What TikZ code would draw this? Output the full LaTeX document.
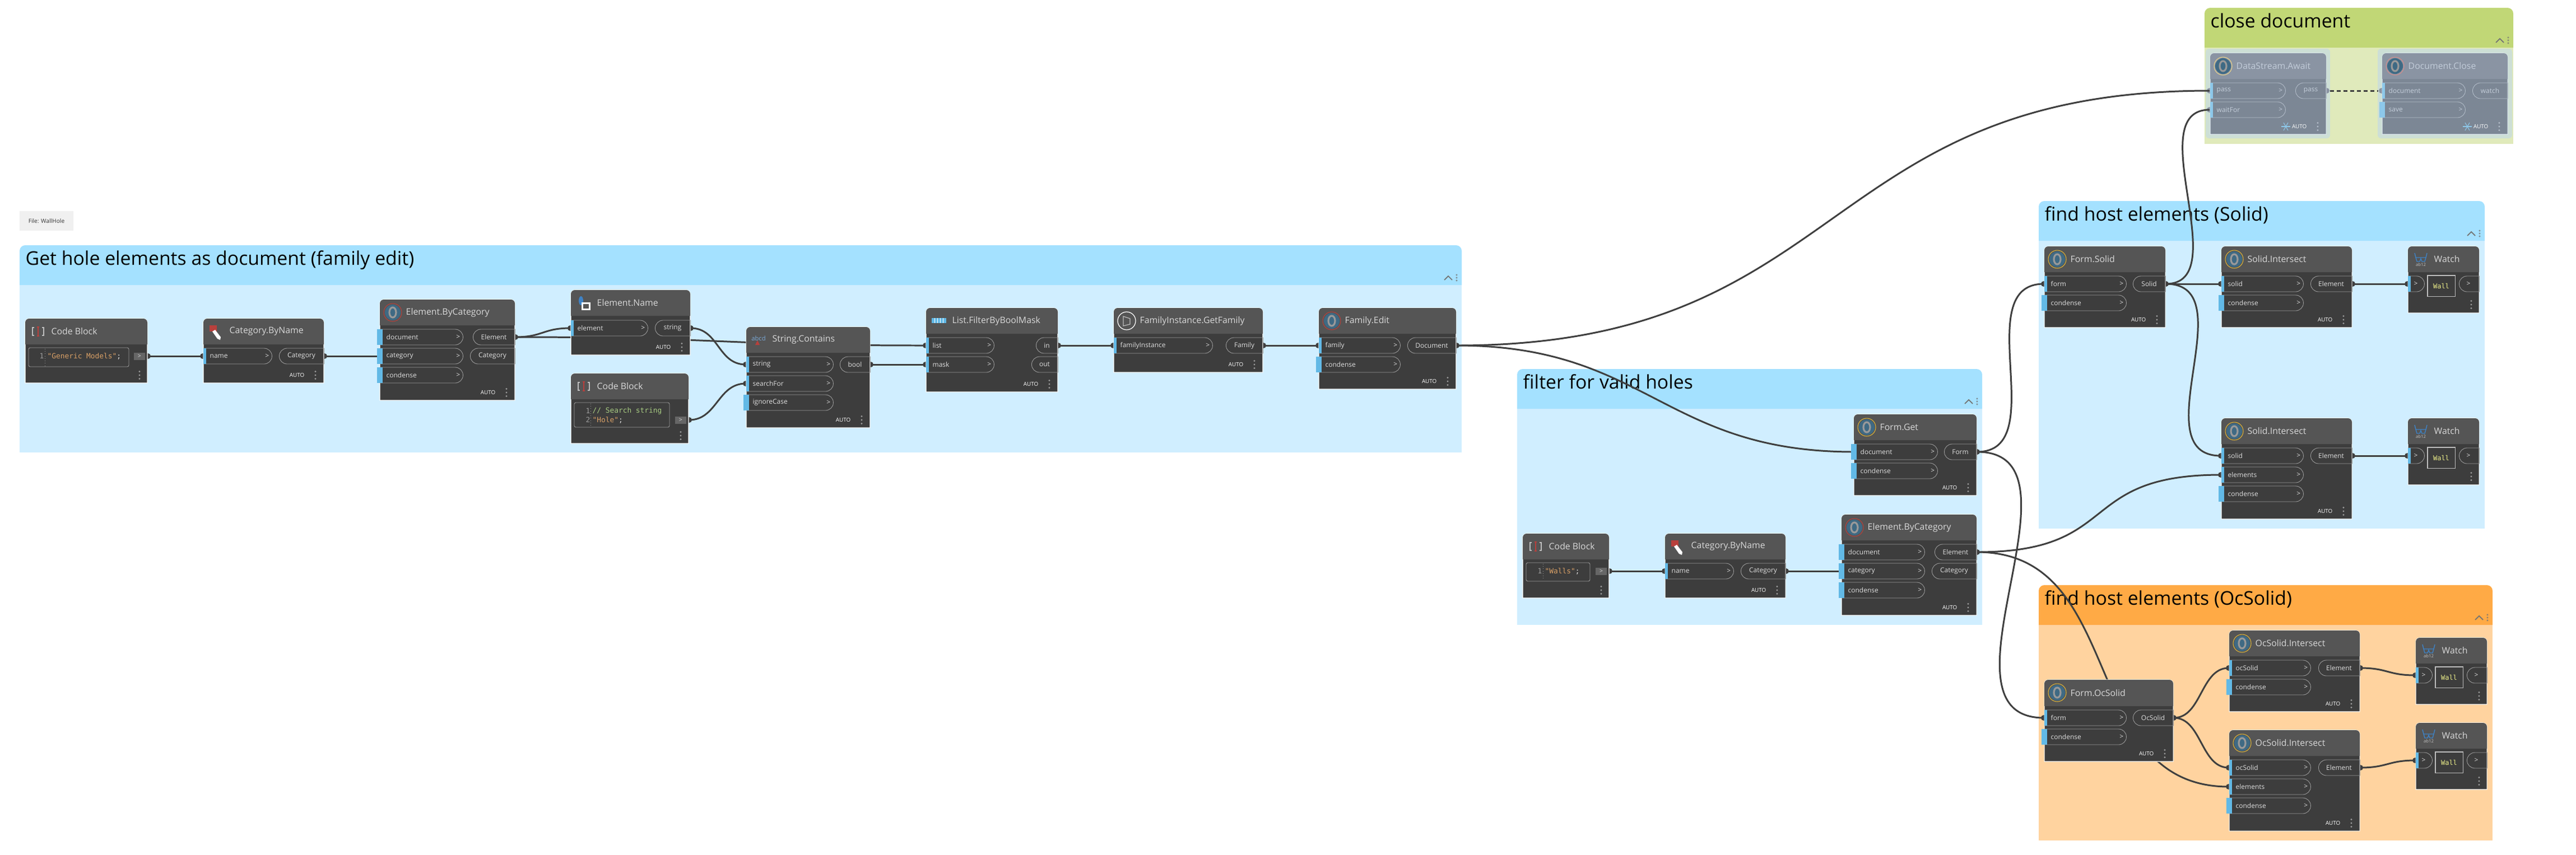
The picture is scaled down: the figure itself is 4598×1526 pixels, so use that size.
\documentclass[tikz,border=0pt]{standalone}
\usepackage{fontspec}
\setmainfont{Open Sans}
\setmonofont{DejaVu Sans Mono}
\usetikzlibrary{shapes.misc}

\definecolor{nodebody}{HTML}{3D3D3D}
\definecolor{nodehead}{HTML}{555555}
\definecolor{nodeedge}{HTML}{FFFFFF}
\definecolor{portline}{HTML}{9C9C9C}
\definecolor{portbar}{HTML}{62B9E6}
\definecolor{porttext}{HTML}{DDDDDD}
\definecolor{titletext}{HTML}{D8D8D8}
\definecolor{wirecol}{HTML}{3F3F3F}
\definecolor{frozensock}{HTML}{8A94A3}
\definecolor{hdrblue}{HTML}{A4E1FF}
\definecolor{bodyblue}{HTML}{D0EEFF}
\definecolor{hdrorange}{HTML}{FFAA45}
\definecolor{bodyorange}{HTML}{FFD39F}
\definecolor{hdrgreen}{HTML}{C1D776}
\definecolor{bodygreen}{HTML}{E0EABB}
\definecolor{haloblue}{HTML}{CDDFD6}
\definecolor{codeorange}{HTML}{D9A066}
\definecolor{codegreen}{HTML}{A8CC82}
\definecolor{wallyellow}{HTML}{EEF08A}
\definecolor{ringred}{HTML}{B8403C}
\definecolor{ringyellow}{HTML}{DDB53A}
\definecolor{iconblue}{HTML}{3F6A84}
\definecolor{watchblue}{HTML}{3F82C4}

\pgfdeclarelayer{group_layer}
\pgfdeclarelayer{wire_layer}
\pgfsetlayers{group_layer,wire_layer,main}

% group frame: name, x1, y1, x2, header bottom, y2, header colour, body colour, title
\newcommand{\dyngroup}[9]{
    \fill[#8] (#2,#5) rectangle (#4,#6);
    \fill[#7] (#2,#5) [rounded corners=0.1cm] -- (#2,#3) -- (#4,#3) [sharp corners] -- (#4,#5) -- cycle;
    \node[group_title, anchor=base west] (#1) at (#2+10,{(#3+#5)/2}) {#9};
    \draw[group_chev] (#4-31,#5-9) -- (#4-24,#5-16) -- (#4-17,#5-9);
    \foreach \d in {-5,0,5} \draw[group_chev, line width=0.15pt] (#4-9,#5-13+\d) circle (0.012cm);
}
% node frame: name, x1, y1, x2, y2, header bottom, title
\newcommand{\dynnode}[7]{
    \path[draw=nodeedge, line width=0.3pt, fill=nodebody] (#2,#5) [rounded corners=0.07cm] -- (#2,#3) -- (#4,#3) [sharp corners] -- (#4,#5) -- cycle;
    \path[fill=nodehead] (#2,#6) [rounded corners=0.07cm] -- (#2,#3) -- (#4,#3) [sharp corners] -- (#4,#6) -- cycle;
    \node[node_title, anchor=west] (#1) at (#2+46,{(#3+#6)/2}) {#7};
}
% input port: name, x1, y, right end, text, extra bar to the left
\newcommand{\inport}[6]{
    \node[in_port, minimum width={(#4-#2)*0.01cm}] (#1) at (#2,#3) {};
    \fill[portbar] (#2-#6,#3-14) rectangle (#2+5,#3+14);
    \node[port_text, anchor=west] at (#2+11,#3) {#5};
    \node[port_text, anchor=east] at (#4-4,#3) {>};
}
% output port: name, left end, x2, y, text
\newcommand{\outport}[5]{
    \node[out_port, minimum width={(#3-#2)*0.01cm}] (#1) at (#2,#4) {};
    \node[port_text] at ({(#2+#3)/2},#4) {#5};
}
\newcommand{\nodedots}[2]{
    \foreach \d in {-6.5,0,6.5} \fill[portline] (#1,#2+\d) circle (0.016cm);
}
% footer: x2, y
\newcommand{\autotag}[2]{
    \node[auto_text, anchor=east] at (#1-34,#2) {AUTO};
    \nodedots{#1-15}{#2}
}
\newcommand{\snowflake}[2]{
    \foreach \a in {0,60,120} \draw[portbar, line width=0.3pt] (#1,#2) ++(\a:8) -- ++(\a+180:16);
}
\newcommand{\ringicon}[3]{
    \fill[iconblue] (#1,#2) circle (0.14cm);
    \draw[#3, line width=0.3pt] (#1,#2) circle (0.16cm);
    \draw[gray!80!white, line width=0.9pt] (#1,#2) ellipse (0.06cm and 0.09cm);
}
\newcommand{\codeicon}[2]{
    \draw[lightgray, line width=0.3pt] (#1-7,#2-7) -- (#1-10,#2-7) -- (#1-10,#2+7) -- (#1-7,#2+7);
    \draw[lightgray, line width=0.3pt] (#1+7,#2-7) -- (#1+10,#2-7) -- (#1+10,#2+7) -- (#1+7,#2+7);
    \draw[ringred, line width=0.3pt] (#1-2,#2-8) -- (#1+2,#2-8) (#1,#2-8) -- (#1,#2+8) (#1-2,#2+8) -- (#1+2,#2+8);
}
\newcommand{\tagicon}[2]{
    \fill[ringred] (#1-7,#2-11) rectangle (#1+6,#2);
    \fill[white] (#1-2,#2) -- (#1+3,#2-3) -- (#1+13,#2+10) -- (#1+12,#2+15) -- (#1+7,#2+13) -- cycle;
}
% watch node: name, x1, y1
\newcommand{\watchnode}[3]{
    \dynnode{#1}{#2}{#3}{#2+127}{#3+119}{#3+46}{Watch}
    \draw[watchblue, line width=0.4pt] (#2+12,#3+12) -- (#2+14,#3+20) -- (#2+32,#3+20) -- (#2+34,#3+12)
        (#2+14,#3+20) -- (#2+16,#3+27) -- (#2+21,#3+27) -- (#2+23,#3+22) -- (#2+25,#3+27) -- (#2+30,#3+27) -- (#2+32,#3+20);
    \node[icon_text, text=lightgray] at (#2+23,#3+33) {ab12};
    \node[in_port, minimum width=0.29cm] (#1_in) at (#2,#3+67) {};
    \fill[portbar] (#2,#3+53) rectangle (#2+5,#3+81);
    \node[port_text] at (#2+14,#3+67) {>};
    \node[wall_box] (#1_val) at (#2+59.5,#3+70.5) {Wall};
    \node[out_port, minimum width=0.36cm] (#1_out) at (#2+91,#3+67) {};
    \node[port_text] at (#2+108,#3+67) {>};
    \nodedots{#2+113}{#3+104}
}

\begin{document}
\begin{tikzpicture}[x=0.01cm, y=-0.01cm,
    group_title/.style={font=\fontsize{9.6}{11}\selectfont, text=black, inner sep=0pt},
    group_chev/.style={draw=black!55, line width=0.5pt},
    node_title/.style={font=\fontsize{4.5}{5.4}\selectfont, text=titletext, inner sep=0pt},
    port_text/.style={font=\fontsize{3.4}{4}\selectfont, text=porttext, inner sep=0pt},
    auto_text/.style={font=\fontsize{2.8}{3.4}\selectfont, text=white, inner sep=0pt},
    icon_text/.style={font=\fontsize{2.2}{2.6}\selectfont, inner sep=0pt},
    code_text/.style={font=\fontsize{3.65}{4.4}\ttfamily, inner sep=0pt, anchor=west},
    in_port/.style={rounded rectangle, rounded rectangle west arc=none, draw=portline, line width=0.25pt,
        minimum height=0.28cm, inner sep=0pt, anchor=west},
    out_port/.style={rounded rectangle, rounded rectangle east arc=none, draw=portline, line width=0.25pt,
        minimum height=0.28cm, inner sep=0pt, anchor=west},
    code_box/.style={rectangle, rounded corners=0.03cm, draw=portline, line width=0.25pt, inner sep=0pt},
    code_go/.style={rectangle, fill=nodehead!90!white, text=porttext, font=\fontsize{3}{3.6}\selectfont,
        minimum width=0.2cm, minimum height=0.135cm, inner sep=0pt},
    wall_box/.style={rectangle, draw=lightgray, line width=0.3pt, minimum width=0.49cm, minimum height=0.37cm,
        inner sep=0pt, text=wallyellow, font=\fontsize{3.4}{4}\ttfamily},
    note_box/.style={rectangle, fill=black!6, text=black!80, minimum width=0.96cm, minimum height=0.35cm,
        inner sep=0pt, font=\fontsize{2.9}{3.5}\selectfont},
    socket/.style={circle, fill=wirecol, minimum size=0.1cm, inner sep=0pt},
    frozen_socket/.style={circle, fill=frozensock, minimum size=0.1cm, inner sep=0pt},
    wire/.style={draw=wirecol, line width=0.85pt}]

    \useasboundingbox (0,0) rectangle (4598,1526);

    % groups
    \begin{pgfonlayer}{group_layer}
        \dyngroup{grp_hole}{35}{438}{2609}{509}{808}{hdrblue}{bodyblue}{Get hole elements as document (family edit)}
        \dyngroup{grp_filter}{2708}{659}{3538}{730}{1116}{hdrblue}{bodyblue}{filter for valid holes}
        \dyngroup{grp_solid}{3639}{359}{4435}{430}{944}{hdrblue}{bodyblue}{find host elements (Solid)}
        \dyngroup{grp_ocsolid}{3639}{1045}{4449}{1116}{1501}{hdrorange}{bodyorange}{find host elements (OcSolid)}
        \dyngroup{grp_close}{3935}{14}{4486}{85}{257}{hdrgreen}{bodygreen}{close document}
        \fill[haloblue, rounded corners=0.06cm] (3937,87) rectangle (4159,247);
        \fill[haloblue, rounded corners=0.06cm] (4244,87) rectangle (4484,247);
    \end{pgfonlayer}

    \node[note_box] (file_note) at (83,394.5) {File: WallHole};

    % family edit
    \dynnode{cb1}{45}{569}{263}{684}{615}{Code Block}
    \codeicon{68}{592}
    \node[code_box, minimum width=1.79cm, minimum height=0.34cm] (cb1_box) at (140.5,638) {};
    \draw[densely dotted, portline, line width=0.2pt] (80,623) -- (80,653);
    \node[code_text, text=portline] at (70,636) {1};
    \node[code_text] at (84,636) {\textcolor{codeorange}{"Generic Models"}\textcolor{porttext}{;}};
    \node[code_go] (cb1_go) at (249,636.5) {>};
    \nodedots{249}{670}

    \dynnode{cat1}{363}{569}{578}{684}{615}{Category.ByName}
    \tagicon{381}{592}
    \inport{cat1_name}{363}{636}{485}{name}{0}
    \outport{cat1_out}{498}{578}{636}{Category}
    \autotag{578}{670}

    \dynnode{ebc1}{678}{535}{919}{715}{581}{Element.ByCategory}
    \ringicon{701}{558}{ringred}
    \inport{ebc1_doc}{678}{602}{826}{document}{5}
    \inport{ebc1_cat}{678}{636}{826}{category}{5}
    \inport{ebc1_cond}{678}{670}{826}{condense}{5}
    \outport{ebc1_elem}{844}{919}{602}{Element}
    \outport{ebc1_out}{839}{919}{636}{Category}
    \autotag{919}{701}

    \dynnode{name1}{1019}{518}{1232}{634}{564}{Element.Name}
    \fill[watchblue] (1037,537) ellipse (0.04cm and 0.08cm);
    \fill[white] (1038,540) rectangle (1054,554);
    \fill[nodehead] (1041,543) rectangle (1051,551);
    \inport{name1_elem}{1019}{586}{1156}{element}{0}
    \outport{name1_out}{1169}{1232}{586}{string}
    \autotag{1232}{620}

    \dynnode{cb2}{1019}{667}{1229}{792}{713}{Code Block}
    \codeicon{1042}{690}
    \node[code_box, minimum width=1.7cm, minimum height=0.44cm] (cb2_box) at (1110,741) {};
    \draw[densely dotted, portline, line width=0.2pt] (1054,721) -- (1054,761);
    \node[code_text, text=portline] at (1045,734) {1};
    \node[code_text, text=portline] at (1045,750) {2};
    \node[code_text, text=codegreen] at (1057,734) {// Search string};
    \node[code_text] at (1057,750) {\textcolor{codeorange}{"Hole"}\textcolor{porttext}{;}};
    \node[code_go] (cb2_go) at (1215,750.5) {>};
    \nodedots{1215}{778}

    \dynnode{sc1}{1332}{584}{1553}{764}{630}{String.Contains}
    \node[icon_text, text=watchblue!70!white, font=\fontsize{3.2}{3.8}\selectfont] (sc1_abcd) at (1354,604) {abcd};
    \fill[ringred] (1352,608) -- (1356,616) -- (1348,616) -- cycle;
    \inport{sc1_str}{1332}{651}{1487}{string}{0}
    \inport{sc1_for}{1332}{685}{1487}{searchFor}{0}
    \inport{sc1_case}{1332}{719}{1487}{ignoreCase}{5}
    \outport{sc1_out}{1499}{1553}{651}{bool}
    \autotag{1553}{750}

    \dynnode{lf1}{1653}{550}{1888}{700}{596}{List.FilterByBoolMask}
    \fill[portbar] (1663,568) rectangle (1689,577);
    \foreach \x in {1668,1673,1678,1683} \fill[white] (\x,568) rectangle (\x+1,577);
    \inport{lf1_list}{1653}{617}{1774}{list}{0}
    \inport{lf1_mask}{1653}{651}{1774}{mask}{0}
    \outport{lf1_in}{1849}{1888}{617}{in}
    \outport{lf1_out}{1841}{1888}{651}{out}
    \autotag{1888}{686}

    \dynnode{fi1}{1988}{550}{2254}{665}{596}{FamilyInstance.GetFamily}
    \draw[white, line width=0.35pt] (2011,573) circle (0.16cm);
    \draw[lightgray, line width=0.35pt] (2005,565) -- (2017,569) -- (2017,579) -- (2005,582) -- cycle;
    \inport{fi1_inst}{1988}{617}{2164}{familyInstance}{0}
    \outport{fi1_out}{2188}{2254}{617}{Family}
    \autotag{2254}{651}

    \dynnode{fe1}{2354}{550}{2599}{695}{596}{Family.Edit}
    \ringicon{2377}{573}{ringred}
    \inport{fe1_fam}{2354}{617}{2499}{family}{0}
    \inport{fe1_cond}{2354}{651}{2499}{condense}{5}
    \outport{fe1_out}{2512}{2599}{617}{Document}
    \autotag{2599}{681}

    % filter
    \dynnode{fg1}{3309}{740}{3528}{885}{786}{Form.Get}
    \ringicon{3332}{763}{ringyellow}
    \inport{fg1_doc}{3309}{807}{3458}{document}{5}
    \inport{fg1_cond}{3309}{841}{3458}{condense}{5}
    \outport{fg1_out}{3470}{3528}{807}{Form}
    \autotag{3528}{871}

    \dynnode{cb3}{2718}{953}{2872}{1068}{999}{Code Block}
    \codeicon{2741}{976}
    \node[code_box, minimum width=1.14cm, minimum height=0.33cm] (cb3_box) at (2781,1021.5) {};
    \draw[densely dotted, portline, line width=0.2pt] (2754,1007) -- (2754,1036);
    \node[code_text, text=portline] at (2744,1020) {1};
    \node[code_text] at (2757,1020) {\textcolor{codeorange}{"Walls"}\textcolor{porttext}{;}};
    \node[code_go] (cb3_go) at (2858,1020.5) {>};
    \nodedots{2858}{1054}

    \dynnode{cat2}{2972}{953}{3187}{1068}{999}{Category.ByName}
    \tagicon{2990}{976}
    \inport{cat2_name}{2972}{1020}{3094}{name}{0}
    \outport{cat2_out}{3107}{3187}{1020}{Category}
    \autotag{3187}{1054}

    \dynnode{ebc2}{3287}{919}{3528}{1099}{965}{Element.ByCategory}
    \ringicon{3310}{942}{ringred}
    \inport{ebc2_doc}{3287}{986}{3435}{document}{5}
    \inport{ebc2_cat}{3287}{1020}{3435}{category}{5}
    \inport{ebc2_cond}{3287}{1054}{3435}{condense}{5}
    \outport{ebc2_elem}{3453}{3528}{986}{Element}
    \outport{ebc2_out}{3448}{3528}{1020}{Category}
    \autotag{3528}{1085}

    % solid
    \dynnode{fs1}{3649}{440}{3865}{585}{486}{Form.Solid}
    \ringicon{3672}{463}{ringyellow}
    \inport{fs1_form}{3649}{507}{3795}{form}{0}
    \inport{fs1_cond}{3649}{541}{3795}{condense}{5}
    \outport{fs1_out}{3807}{3865}{507}{Solid}
    \autotag{3865}{571}

    \dynnode{si1}{3965}{440}{4198}{585}{486}{Solid.Intersect}
    \ringicon{3988}{463}{ringyellow}
    \inport{si1_solid}{3965}{507}{4111}{solid}{0}
    \inport{si1_cond}{3965}{541}{4111}{condense}{5}
    \outport{si1_out}{4124}{4198}{507}{Element}
    \autotag{4198}{571}
    \watchnode{w1}{4298}{440}

    \dynnode{si2}{3965}{747}{4198}{927}{793}{Solid.Intersect}
    \ringicon{3988}{770}{ringyellow}
    \inport{si2_solid}{3965}{814}{4111}{solid}{0}
    \inport{si2_elem}{3965}{848}{4111}{elements}{0}
    \inport{si2_cond}{3965}{882}{4111}{condense}{5}
    \outport{si2_out}{4124}{4198}{814}{Element}
    \autotag{4198}{913}
    \watchnode{w2}{4298}{747}

    % ocsolid
    \dynnode{fo1}{3649}{1214}{3879}{1360}{1261}{Form.OcSolid}
    \ringicon{3672}{1237}{ringyellow}
    \inport{fo1_form}{3649}{1282}{3795}{form}{0}
    \inport{fo1_cond}{3649}{1316}{3795}{condense}{5}
    \outport{fo1_out}{3807}{3879}{1282}{OcSolid}
    \autotag{3879}{1346}

    \dynnode{oi1}{3979}{1126}{4212}{1271}{1172}{OcSolid.Intersect}
    \ringicon{4002}{1149}{ringyellow}
    \inport{oi1_solid}{3979}{1193}{4124}{ocSolid}{0}
    \inport{oi1_cond}{3979}{1227}{4124}{condense}{5}
    \outport{oi1_out}{4138}{4212}{1193}{Element}
    \autotag{4212}{1257}
    \watchnode{w3}{4312}{1139}

    \dynnode{oi2}{3979}{1304}{4212}{1484}{1350}{OcSolid.Intersect}
    \ringicon{4002}{1327}{ringyellow}
    \inport{oi2_solid}{3979}{1371}{4124}{ocSolid}{0}
    \inport{oi2_elem}{3979}{1405}{4124}{elements}{0}
    \inport{oi2_cond}{3979}{1439}{4124}{condense}{5}
    \outport{oi2_out}{4138}{4212}{1371}{Element}
    \autotag{4212}{1470}
    \watchnode{w4}{4312}{1291}

    % close document, frozen nodes are paler
    \begin{scope}
        \definecolor{nodebody}{HTML}{7C8795}
        \definecolor{nodehead}{HTML}{8A94A3}
        \definecolor{nodeedge}{HTML}{E3EDF5}
        \definecolor{portline}{HTML}{B3BDC9}
        \definecolor{portbar}{HTML}{8DC8EA}
        \definecolor{porttext}{HTML}{C5CFDB}
        \definecolor{titletext}{HTML}{C2CCD9}

        \dynnode{ds1}{3945}{95}{4152}{240}{141}{DataStream.Await}
        \ringicon{3968}{118}{ringyellow!60!white}
        \inport{ds1_pass}{3945}{162}{4079}{pass}{0}
        \inport{ds1_wait}{3945}{196}{4079}{waitFor}{0}
        \outport{ds1_out}{4097}{4152}{162}{pass}
        \autotag{4152}{226}
        \snowflake{4080}{226}

        \dynnode{dc1}{4252}{95}{4476}{240}{141}{Document.Close}
        \ringicon{4275}{118}{ringred!60!white}
        \inport{dc1_doc}{4252}{162}{4400}{document}{0}
        \inport{dc1_save}{4252}{196}{4400}{save}{5}
        \outport{dc1_out}{4413}{4476}{162}{watch}
        \autotag{4476}{226}
        \snowflake{4404}{226}
    \end{scope}

    % connectors
    \begin{pgfonlayer}{wire_layer}
        \foreach \n/\x/\y in {cb1/264/636, cat1in/362/636, cat1out/579/636, ebc1cat/678/636, ebc1out/920/602,
            namein/1018/586, nameout/1233/586, scstr/1331/651, cb2/1230/750, scfor/1331/685, scout/1554/651,
            lflist/1652/617, lfmask/1652/651, lfin/1889/617, fiin/1987/617, fiout/2255/617, fefam/2353/617,
            feout/2600/617, fgdoc/3309/807, fgout/3529/807, fsform/3648/507, fsout/3866/507, si1solid/3964/507,
            si1out/4199/507, w1in/4297/507, si2solid/3964/814, si2elem/3964/848, si2out/4199/814, w2in/4297/814,
            cb3/2873/1020, cat2in/2971/1020, cat2out/3188/1020, ebc2cat/3287/1020, ebc2out/3529/986,
            foform/3648/1282, foout/3880/1282, oi1solid/3978/1193, oi1out/4213/1193, w3in/4311/1206,
            oi2solid/3978/1371, oi2elem/3978/1405, oi2out/4213/1371, w4in/4311/1358}
            \node[socket] (sk_\n) at (\x,\y) {};
        \node[frozen_socket] (sk_dspass) at (3944,162) {};
        \node[frozen_socket] (sk_dswait) at (3944,196) {};
        \node[frozen_socket] (sk_dsout) at (4153,162) {};
        \node[frozen_socket] (sk_dcdoc) at (4251,162) {};

        \draw[wire] (sk_cb1.center) -- (sk_cat1in.center);
        \draw[wire] (sk_cat1out.center) -- (sk_ebc1cat.center);
        \draw[wire] (sk_ebc1out.center) .. controls +(49,0) and +(-49,0) .. (sk_namein.center);
        \draw[wire] (sk_ebc1out.center) .. controls +(366,0) and +(-366,0) .. (sk_lflist.center);
        \draw[wire] (sk_nameout.center) .. controls +(50,0) and +(-50,0) .. (sk_scstr.center);
        \draw[wire] (sk_cb2.center) .. controls +(50,0) and +(-50,0) .. (sk_scfor.center);
        \draw[wire] (sk_scout.center) -- (sk_lfmask.center);
        \draw[wire] (sk_lfin.center) -- (sk_fiin.center);
        \draw[wire] (sk_fiout.center) -- (sk_fefam.center);
        \draw[wire] (sk_feout.center) .. controls +(340,0) and +(-340,0) .. (sk_fgdoc.center);
        \draw[wire] (sk_feout.center) .. controls +(700,0) and +(-700,0) .. (sk_dspass.center);
        \draw[wire] (sk_fgout.center) .. controls +(135,0) and +(-135,0) .. (sk_fsform.center);
        \draw[wire] (sk_fgout.center) .. controls +(210,0) and +(-210,0) .. (sk_foform.center);
        \draw[wire] (sk_fsout.center) -- (sk_si1solid.center);
        \draw[wire] (sk_fsout.center) .. controls +(125,0) and +(-125,0) .. (sk_dswait.center);
        \draw[wire] (sk_fsout.center) .. controls +(143,0) and +(-143,0) .. (sk_si2solid.center);
        \draw[wire] (sk_si1out.center) -- (sk_w1in.center);
        \draw[wire] (sk_si2out.center) -- (sk_w2in.center);
        \draw[wire] (sk_cb3.center) -- (sk_cat2in.center);
        \draw[wire] (sk_cat2out.center) -- (sk_ebc2cat.center);
        \draw[wire] (sk_ebc2out.center) .. controls +(260,0) and +(-260,0) .. (sk_si2elem.center);
        \draw[wire] (sk_ebc2out.center) .. controls +(270,0) and +(-270,0) .. (sk_oi2elem.center);
        \draw[wire] (sk_foout.center) .. controls +(50,0) and +(-50,0) .. (sk_oi1solid.center);
        \draw[wire] (sk_foout.center) .. controls +(50,0) and +(-50,0) .. (sk_oi2solid.center);
        \draw[wire] (sk_oi1out.center) .. controls +(49,0) and +(-49,0) .. (sk_w3in.center);
        \draw[wire] (sk_oi2out.center) .. controls +(49,0) and +(-49,0) .. (sk_w4in.center);
        \draw[wire, dash pattern=on 0.07cm off 0.05cm] (sk_dsout.east) -- (sk_dcdoc.west);
    \end{pgfonlayer}

\end{tikzpicture}
\end{document}
